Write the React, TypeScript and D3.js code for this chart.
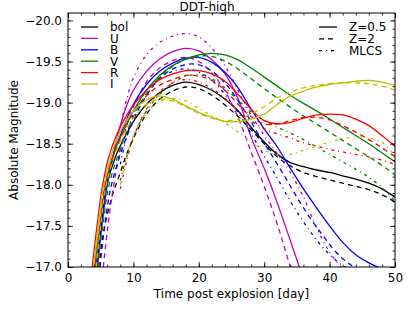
import React, { useEffect, useRef } from "react";
import * as d3 from "d3";

// light curves, [day, absolute magnitude]
const bolSolid = [[4.3,-17.0],[5.1,-17.5],[5.9,-17.98],[7.3,-18.35],[9,-18.63],[10.5,-18.83],[12,-18.98],[14,-19.12],[16,-19.21],[18,-19.25],[20,-19.22],[22,-19.15],[24,-19.04],[26,-18.9],[28,-18.7],[30,-18.52],[32,-18.37],[34,-18.27],[36,-18.22],[38,-18.18],[40,-18.15],[42,-18.11],[44,-18.07],[46,-18.02],[48,-17.95],[50,-17.85]];
const bolDashed = [[4.7,-17.0],[5.5,-17.45],[6.7,-17.85],[8,-18.15],[9,-18.38],[10.7,-18.68],[12,-18.86],[14,-19.04],[16,-19.14],[18,-19.19],[20,-19.17],[22,-19.09],[24,-18.97],[26,-18.83],[28,-18.67],[30,-18.5],[32,-18.34],[34,-18.23],[36,-18.15],[38,-18.1],[40,-18.06],[42,-18.02],[44,-17.98],[46,-17.94],[48,-17.88],[50,-17.79]];

const uSolid = [[4.5,-17.0],[5.2,-17.5],[6,-18.0],[7,-18.4],[8,-18.72],[9,-18.97],[10,-19.15],[12,-19.38],[14,-19.53],[16,-19.62],[18,-19.66],[20,-19.63],[22,-19.52],[24,-19.35],[26,-19.05],[28,-18.58],[30,-18.2],[32,-17.78],[34,-17.32],[36,-16.85]];
const uDashed = [[5.4,-17.0],[6.1,-17.5],[7,-18.0],[8,-18.42],[9,-18.72],[10,-18.95],[12,-19.25],[14,-19.42],[16,-19.51],[18,-19.55],[20,-19.5],[22,-19.36],[24,-19.14],[26,-18.82],[28,-18.4],[30,-17.98],[32,-17.52],[34,-17.0],[35,-16.75]];
const uMlcs = [[8,-18.7],[9,-19.05],[10,-19.3],[12,-19.58],[14,-19.73],[16,-19.81],[18,-19.84],[20,-19.8],[22,-19.66],[24,-19.45],[26,-19.15],[28,-18.85],[30,-18.6],[32,-18.38],[34,-18.15],[36,-17.85],[38,-17.48],[40,-17.18],[42,-16.98]];

const bSolid = [[4.4,-17.0],[5.1,-17.5],[5.9,-17.98],[7.1,-18.4],[8.5,-18.7],[10,-18.98],[12,-19.22],[14,-19.38],[16,-19.48],[18,-19.54],[20,-19.55],[22,-19.49],[24,-19.37],[26,-19.18],[28,-18.92],[30,-18.68],[32,-18.46],[34,-18.2],[36,-17.95],[38,-17.72],[40,-17.5],[42,-17.3],[44,-17.15],[46,-17.05],[48,-16.98],[50,-16.93]];
const bDashed = [[4.9,-17.0],[5.6,-17.5],[6.5,-17.95],[7.8,-18.32],[9.3,-18.65],[11,-18.95],[13,-19.2],[15,-19.36],[17,-19.44],[19,-19.47],[21,-19.43],[23,-19.32],[25,-19.14],[27,-18.9],[29,-18.63],[31,-18.38],[33,-18.12],[35,-17.85],[37,-17.6],[39,-17.38],[41,-17.18],[43,-17.04],[45,-16.94]];
const bMlcs = [[8,-18.25],[9,-18.6],[10,-18.86],[12,-19.15],[14,-19.3],[16,-19.38],[18,-19.41],[20,-19.37],[22,-19.27],[24,-19.1],[26,-18.88],[28,-18.62],[30,-18.35],[32,-18.08],[34,-17.8],[36,-17.55],[38,-17.33],[40,-17.15],[42,-17.02],[44,-16.95]];

const vSolid = [[4.1,-17.0],[4.9,-17.5],[5.7,-17.98],[7,-18.38],[8.5,-18.66],[10,-18.9],[12,-19.15],[14,-19.33],[16,-19.45],[18,-19.53],[20,-19.58],[22,-19.6],[24,-19.58],[26,-19.52],[28,-19.42],[30,-19.31],[32,-19.2],[34,-19.09],[36,-18.99],[38,-18.9],[40,-18.8],[42,-18.7],[44,-18.6],[46,-18.5],[48,-18.39],[50,-18.28]];
const vDashed = [[4.5,-17.0],[5.3,-17.5],[6.2,-17.97],[7.6,-18.35],[9.2,-18.68],[11,-18.98],[13,-19.22],[15,-19.38],[17,-19.49],[19,-19.55],[21,-19.57],[23,-19.54],[25,-19.46],[27,-19.35],[29,-19.23],[31,-19.11],[33,-19.0],[35,-18.89],[37,-18.79],[39,-18.69],[41,-18.59],[43,-18.49],[45,-18.39],[47,-18.29],[49,-18.18],[50,-18.12]];
const vMlcs = [[8,-18.05],[9,-18.35],[10,-18.58],[12,-18.9],[14,-19.1],[16,-19.24],[18,-19.32],[20,-19.34],[22,-19.29],[24,-19.18],[26,-19.03],[28,-18.89],[30,-18.78],[32,-18.7],[34,-18.63],[36,-18.55],[38,-18.46],[40,-18.37],[42,-18.28],[44,-18.19],[46,-18.09],[48,-17.97],[50,-17.8]];

const rSolid = [[3.7,-17.0],[4.4,-17.48],[5.2,-17.95],[6.2,-18.33],[7.5,-18.62],[9,-18.85],[10,-18.97],[12,-19.15],[14,-19.28],[16,-19.35],[18,-19.39],[20,-19.39],[22,-19.35],[24,-19.26],[26,-19.1],[28,-18.92],[30,-18.78],[32,-18.74],[34,-18.76],[36,-18.81],[38,-18.85],[40,-18.86],[42,-18.85],[44,-18.8],[46,-18.72],[48,-18.6],[50,-18.47]];
const rDashed = [[4.1,-17.0],[4.8,-17.5],[5.6,-17.98],[6.8,-18.33],[8.2,-18.6],[10,-18.88],[12,-19.08],[14,-19.21],[16,-19.28],[18,-19.33],[20,-19.32],[22,-19.27],[24,-19.15],[26,-18.98],[28,-18.83],[30,-18.74],[32,-18.74],[34,-18.78],[36,-18.82],[38,-18.82],[40,-18.79],[42,-18.72],[44,-18.64],[46,-18.55],[48,-18.45],[50,-18.34]];
const rMlcs = [[8,-17.95],[9,-18.3],[10,-18.57],[12,-18.92],[14,-19.13],[16,-19.24],[18,-19.28],[20,-19.25],[22,-19.17],[24,-19.05],[26,-18.9],[28,-18.78],[30,-18.68],[32,-18.62],[34,-18.57],[36,-18.51],[38,-18.47],[40,-18.43],[42,-18.4],[44,-18.37],[46,-18.34],[48,-18.3],[50,-18.25]];

const iSolid = [[3.9,-17.0],[4.6,-17.48],[5.4,-17.97],[6.6,-18.36],[8,-18.65],[10,-18.9],[12,-19.03],[14,-19.08],[16,-19.04],[18,-18.96],[20,-18.88],[22,-18.82],[24,-18.77],[26,-18.77],[28,-18.8],[30,-18.86],[32,-18.98],[34,-19.08],[36,-19.14],[38,-19.19],[40,-19.22],[42,-19.24],[44,-19.26],[46,-19.27],[48,-19.25],[50,-19.21]];
const iDashed = [[4.3,-17.0],[5,-17.5],[5.8,-17.98],[7.2,-18.37],[8.8,-18.66],[10.5,-18.86],[12,-18.98],[14,-19.04],[16,-19.02],[18,-18.95],[20,-18.87],[22,-18.81],[24,-18.78],[26,-18.8],[28,-18.86],[30,-18.95],[32,-19.06],[34,-19.13],[36,-19.18],[38,-19.21],[40,-19.23],[42,-19.24],[44,-19.24],[46,-19.23],[48,-19.2],[50,-19.15]];
const iMlcs = [[8,-18.0],[9,-18.35],[10,-18.6],[12,-18.88],[14,-19.01],[16,-19.05],[18,-19.02],[20,-18.93],[22,-18.84],[24,-18.75],[26,-18.64],[28,-18.52],[30,-18.42],[32,-18.37],[34,-18.37],[36,-18.42],[38,-18.47],[40,-18.52],[42,-18.56],[44,-18.58],[46,-18.57],[48,-18.52],[49.5,-18.4],[50,-18.34]];

const bands = ["bol", "U", "B", "V", "R", "I"];
const bandColors = ["#000000", "#bf00bf", "#0000ff", "#008000", "#ff0000", "#bfbf00"];
const styles = ["Z=0.5", "Z=2", "MLCS"];
const styleDash = [null, "5,4", "3,4,1,4"];

const curves = [
  { band: 0, style: 0, data: bolSolid },
  { band: 0, style: 1, data: bolDashed },
  { band: 1, style: 0, data: uSolid },
  { band: 1, style: 1, data: uDashed },
  { band: 1, style: 2, data: uMlcs },
  { band: 2, style: 0, data: bSolid },
  { band: 2, style: 1, data: bDashed },
  { band: 2, style: 2, data: bMlcs },
  { band: 3, style: 0, data: vSolid },
  { band: 3, style: 1, data: vDashed },
  { band: 3, style: 2, data: vMlcs },
  { band: 4, style: 0, data: rSolid },
  { band: 4, style: 1, data: rDashed },
  { band: 4, style: 2, data: rMlcs },
  { band: 5, style: 0, data: iSolid },
  { band: 5, style: 1, data: iDashed },
  { band: 5, style: 2, data: iMlcs },
];

const xTicks = [0, 10, 20, 30, 40, 50];
const yTicks = [-20.0, -19.5, -19.0, -18.5, -18.0, -17.5, -17.0];

const W = 415, H = 312;
const left = 68, right = 395, top = 13, bottom = 267;
const FONT = "DejaVu Sans, sans-serif";

export default function App() {
  const ref = useRef<SVGSVGElement>(null);

  useEffect(() => {
    const svg = d3.select(ref.current);
    svg.selectAll("*").remove();

    const x = d3.scaleLinear().domain([0, 50]).range([left, right]);
    const y = d3.scaleLinear().domain([-17, -20.09]).range([bottom, top]);

    svg.append("defs").append("clipPath").attr("id", "plot")
      .append("rect").attr("x", left).attr("y", top)
      .attr("width", right - left).attr("height", bottom - top);

    const line = d3.line<number[]>()
      .x((d) => x(d[0]))
      .y((d) => y(d[1]))
      .curve(d3.curveCatmullRom.alpha(0.5));

    const g = svg.append("g").attr("clip-path", "url(#plot)");
    curves.forEach((c) => {
      g.append("path")
        .attr("d", line(c.data))
        .attr("fill", "none")
        .attr("stroke", bandColors[c.band])
        .attr("stroke-width", 1.3)
        .attr("stroke-dasharray", styleDash[c.style]);
    });

    const fmt = d3.format(".1f");
    const styleAxis = (a) => {
      a.select(".domain").remove();
      a.selectAll("text").attr("font-family", FONT).attr("font-size", 12).attr("fill", "#000");
      a.selectAll("line").attr("stroke", "#000").attr("stroke-width", 0.8);
    };
    const minorX = d3.range(0, 51, 2);
    const minorY = d3.range(-20.0, -16.95, 0.1);

    // bottom / top
    svg.append("g").attr("transform", `translate(0,${bottom})`)
      .call(d3.axisBottom(x).tickValues(xTicks).tickSize(-5).tickPadding(6).tickFormat(d3.format("d")))
      .call(styleAxis);
    svg.append("g").attr("transform", `translate(0,${bottom})`)
      .call(d3.axisBottom(x).tickValues(minorX).tickSize(-2.5).tickFormat(() => ""))
      .call(styleAxis);
    svg.append("g").attr("transform", `translate(0,${top})`)
      .call(d3.axisTop(x).tickValues(xTicks).tickSize(-5).tickFormat(() => ""))
      .call(styleAxis);
    svg.append("g").attr("transform", `translate(0,${top})`)
      .call(d3.axisTop(x).tickValues(minorX).tickSize(-2.5).tickFormat(() => ""))
      .call(styleAxis);

    // left / right
    svg.append("g").attr("transform", `translate(${left},0)`)
      .call(d3.axisLeft(y).tickValues(yTicks).tickSize(-5).tickPadding(6).tickFormat(fmt))
      .call(styleAxis);
    svg.append("g").attr("transform", `translate(${left},0)`)
      .call(d3.axisLeft(y).tickValues(minorY).tickSize(-2.5).tickFormat(() => ""))
      .call(styleAxis);
    svg.append("g").attr("transform", `translate(${right},0)`)
      .call(d3.axisRight(y).tickValues(yTicks).tickSize(-5).tickFormat(() => ""))
      .call(styleAxis);
    svg.append("g").attr("transform", `translate(${right},0)`)
      .call(d3.axisRight(y).tickValues(minorY).tickSize(-2.5).tickFormat(() => ""))
      .call(styleAxis);

    svg.append("rect")
      .attr("x", left).attr("y", top)
      .attr("width", right - left).attr("height", bottom - top)
      .attr("fill", "none").attr("stroke", "#000").attr("stroke-width", 1);

    // title and axis labels
    svg.append("text").attr("x", 207).attr("y", 11).attr("text-anchor", "middle")
      .attr("font-family", FONT).attr("font-size", 12).text("DDT-high");
    svg.append("text").attr("x", (left + right) / 2).attr("y", 298).attr("text-anchor", "middle")
      .attr("font-family", FONT).attr("font-size", 12).text("Time post explosion [day]");
    svg.append("text")
      .attr("transform", `translate(18,${(top + bottom) / 2}) rotate(-90)`)
      .attr("text-anchor", "middle")
      .attr("font-family", FONT).attr("font-size", 12).text("Absolute Magnitude");

    // band legend
    const leg1 = svg.append("g");
    bands.forEach((b, i) => {
      const yy = 27 + i * 11.4;
      leg1.append("line").attr("x1", 81).attr("x2", 98).attr("y1", yy).attr("y2", yy)
        .attr("stroke", bandColors[i]).attr("stroke-width", 1.3);
      leg1.append("text").attr("x", 110).attr("y", yy + 4.3)
        .attr("font-family", FONT).attr("font-size", 12).text(b);
    });

    // model legend
    const leg2 = svg.append("g");
    styles.forEach((s, i) => {
      const yy = 27 + i * 11.8;
      leg2.append("line").attr("x1", 319).attr("x2", 337).attr("y1", yy).attr("y2", yy)
        .attr("stroke", "#000").attr("stroke-width", 1.3)
        .attr("stroke-dasharray", styleDash[i]);
      leg2.append("text").attr("x", 349).attr("y", yy + 4.3)
        .attr("font-family", FONT).attr("font-size", 12).text(s);
    });
  }, []);

  return (
    <svg ref={ref} width={W} height={H}
      style={{ position: "absolute", left: 0, top: 0, background: "#fff" }} />
  );
}
